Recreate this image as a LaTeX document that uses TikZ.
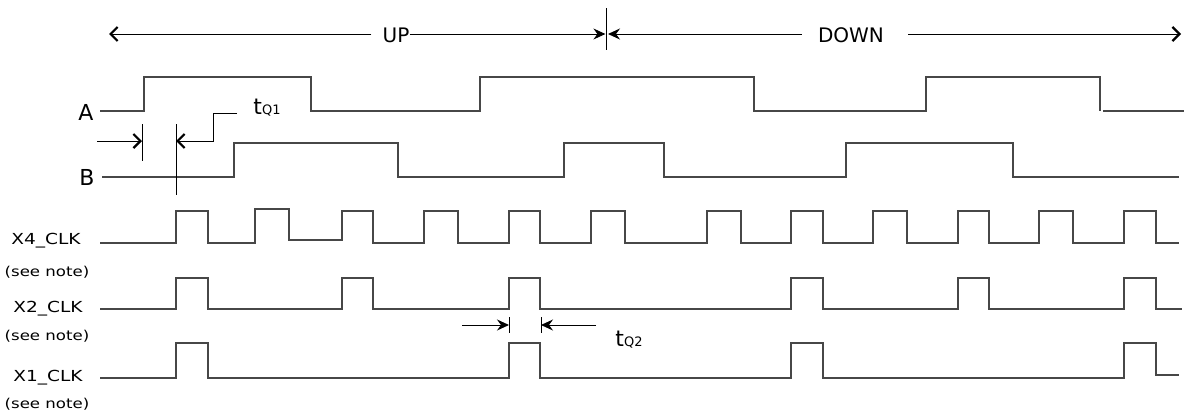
\documentclass[tikz,border=0pt]{standalone}
\usepackage{fontspec}
\setmainfont{DejaVu Sans}
\newfontfamily\clkfont[FakeStretch=1.22]{DejaVu Sans}
\usetikzlibrary{arrows.meta}

\tikzset{
  sinal/.style={draw=black!72, line width=0.6pt},
  cota/.style={draw=black, line width=0.5pt},
  rotulo/.style={inner sep=0pt, font=\fontsize{10}{12}\selectfont},
  letra/.style={inner sep=0pt, font=\fontsize{11}{13}\selectfont},
  clk/.style={inner sep=0pt, font=\clkfont\fontsize{7.6}{9}\selectfont},
  nota/.style={inner sep=0pt, font=\clkfont\fontsize{6.8}{8}\selectfont},
  seta/.style={-{Stealth[length=6pt,width=5.5pt,inset=2pt]}},
  farpa/.style={-{Straight Barb[length=3.5pt,width=7pt,line width=1.1pt]}}
}

\begin{document}
\begin{tikzpicture}
  [x=0.5pt, y=-0.5pt]
  \useasboundingbox (0,0) rectangle (1184,412);

  % Sentido UP / DOWN
  \coordinate (esq) at (109,34);
  \coordinate (meio) at (606,34);
  \coordinate (dir) at (1181,34);
  \node[rotulo] (up) at (396,35) {UP};
  \node[rotulo] (down) at (851,35) {DOWN};
  \draw[cota,farpa] ([xshift=-5.5pt]up.west |- esq) -- (esq);
  \draw[cota,seta] (up.east |- esq) -- ([xshift=-0.3pt]meio);
  \draw[cota,seta] ([xshift=-8pt]down.west |- esq) -- ([xshift=1pt]meio);
  \draw[cota,farpa] ([xshift=12pt]down.east |- esq) -- (dir);
  \draw[cota] (606,8) -- (606,50);

  % Rotulos dos sinais
  \node[letra] (A) at (86,112) {A};
  \node[letra] (B) at (87,177) {B};
  \node[clk] (x4) at (46,241) {X4\_CLK};
  \node[nota] (n4) at (47,272) {(see note)};
  \node[clk] (x2) at (48,309) {X2\_CLK};
  \node[nota] (n2) at (47,336) {(see note)};
  \node[clk] (x1) at (48,378) {X1\_CLK};
  \node[nota] (n1) at (47,404) {(see note)};

  % Canais A e B
  \draw[sinal] (100,111) -| (144,77) -| (311,111) -| (480,77) -| (754,111)
    -| (926,77) -| (1100,111);
  \draw[sinal] (1103,111) -- (1184,111);
  \draw[sinal] (102,177) -| (234,143) -| (398,177) -| (564,143) -| (664,177)
    -| (846,143) -| (1013,177) -- (1179,177);

  % Relogios X4, X2 e X1
  \draw[sinal] (100,243) -| (176,211) -| (208,243) -| (255,209) -| (289,240)
    -| (342,211) -| (373,243) -| (424,211) -| (458,243) -| (509,211)
    -| (540,243) -| (591,211) -| (625,243) -| (707,211) -| (741,243)
    -| (791,211) -| (823,243) -| (873,211) -| (907,243) -| (958,211)
    -| (989,243) -| (1039,211) -| (1073,243) -| (1124,211) -| (1156,243)
    -- (1179,243);
  \draw[sinal] (100,309) -| (176,278) -| (208,309) -| (342,278) -| (373,309)
    -| (509,278) -| (540,309) -| (791,278) -| (823,309) -| (958,278)
    -| (989,309) -| (1124,278) -| (1156,309) -- (1182,309);
  \draw[sinal] (100,378) -| (176,343) -| (208,378) -| (509,343) -| (540,378)
    -| (791,343) -| (823,378) -| (1124,343) -| (1156,375) -- (1179,375);

  % Atraso tQ1
  \node[letra, anchor=base west] (tq1) at (253,114) {t{\fontsize{6.5}{7}\selectfont Q1}};
  \draw[cota] (142,124) -- (142,161);
  \draw[cota] (176,124) -- (176,195);
  \draw[cota,farpa] (97,141) -- (142,141);
  \draw[cota,farpa] ([xshift=-8pt,yshift=0.5pt]tq1.base west) -| (213,141) -- (176,141);

  % Atraso tQ2
  \node[letra, anchor=base west] (tq2) at (615,346) {t{\fontsize{6.5}{7}\selectfont Q2}};
  \draw[cota] (509,317) -- (509,333);
  \draw[cota] (541,317) -- (541,333);
  \draw[cota,seta] (462,325) -- (509,325);
  \draw[cota,seta] (596,325) -- (541,325);
\end{tikzpicture}
\end{document}
